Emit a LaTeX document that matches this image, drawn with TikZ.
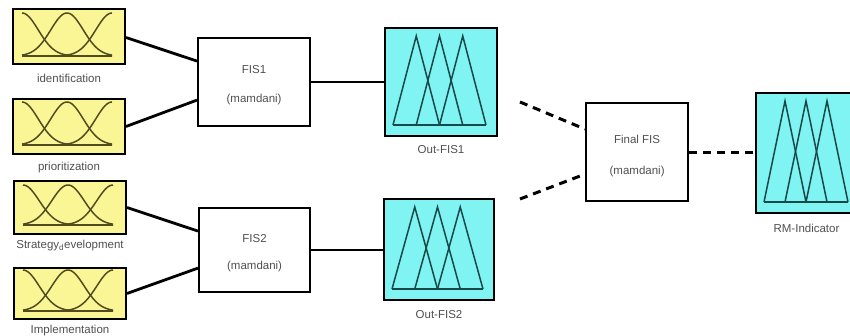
\documentclass[tikz,border=0pt]{standalone}
\usepackage{fontspec}
\setmainfont{Liberation Sans}
\definecolor{inyellow}{RGB}{250,246,150}
\definecolor{outcyan}{RGB}{128,243,243}
\definecolor{gausscol}{RGB}{80,76,32}
\definecolor{tricol}{RGB}{25,72,72}
\definecolor{labcol}{RGB}{80,80,80}
\tikzset{
  inbox/.style={draw=black, line width=2pt, fill=inyellow, minimum width=112pt, minimum height=55pt, inner sep=0pt, anchor=north west},
  outbox/.style={draw=black, line width=2pt, fill=outcyan, inner sep=0pt, anchor=north west},
  fisbox/.style={draw=black, line width=2.2pt, fill=white, inner sep=0pt, anchor=north west},
  lab/.style={font=\fontsize{11.5}{13}\selectfont, text=labcol, inner sep=0pt},
  conn/.style={line width=2.8pt, black},
  dconn/.style={line width=3pt, black, dash pattern=on 8pt off 6pt},
  mfline/.style={line width=1.5pt, gausscol},
  triline/.style={line width=1.5pt, tricol, line join=miter},
}
% three gaussian membership functions: box left #1, baseline #2, peak height #3
\newcommand\gaussset[3]{%
  \begin{scope}[shift={(#1,#2)}]
    \draw[mfline] (10,0) -- (100,0);
    \foreach \c in {10,55,100}{
      \draw[mfline] plot[domain=10:100, samples=80, smooth] (\x,{-#3*exp(-((\x-\c)*(\x-\c))/528)});
    }
  \end{scope}}
% three triangular membership functions: corner (#1,#2), width #3, height #4
\newcommand\triset[4]{%
  \begin{scope}[shift={(#1,#2)}]
    \pgfmathsetmacro\dd{(#3-19)/4}
    \pgfmathsetmacro\bb{#4-10}
    \draw[triline] (9,\bb) -- ({9+4*\dd},\bb);
    \foreach \i in {0,1,2}{
      \draw[triline] ({9+\i*\dd},\bb) -- ({9+(\i+1)*\dd},9) -- ({9+(\i+2)*\dd},\bb);
    }
  \end{scope}}
\begin{document}
\begin{tikzpicture}[x=1pt, y=-1pt]
  \clip (0,0) rectangle (850,336);
  \fill[white] (0,0) rectangle (850,336);

  % input variables
  \node[inbox] (in1) at (12,8) {};
  \node[inbox] (in2) at (12,98) {};
  \node[inbox, minimum height=53pt] (in3) at (13,180) {};
  \node[inbox, minimum height=51pt] (in4) at (13,267) {};
  \gaussset{12}{56}{43}
  \gaussset{12}{145}{43}
  \gaussset{13}{225}{40}
  \gaussset{13}{311}{41}
  \node[lab] (l1) at ([yshift=-13pt]in1.south) {identification};
  \node[lab] (l2) at ([yshift=-13pt]in2.south) {prioritization};
  \node[lab] (l3) at ([yshift=-11pt]in3.south) {Strategy\textsubscript{d}evelopment};
  \node[lab] (l4) at ([yshift=-11pt]in4.south) {Implementation};

  % inference systems
  \node[fisbox, minimum width=112pt, minimum height=88pt] (fis1) at (197,37) {};
  \node[fisbox, minimum width=111pt, minimum height=84pt] (fis2) at (198,207) {};
  \node[fisbox, minimum width=102pt, minimum height=98pt] (fin) at (585,102) {};
  \node[lab] (f1a) at ([yshift=13pt]fis1.center) {FIS1};
  \node[lab] (f1b) at ([yshift=-17pt]fis1.center) {(mamdani)};
  \node[lab] (f2a) at ([yshift=12pt]fis2.center) {FIS2};
  \node[lab] (f2b) at ([yshift=-16pt]fis2.center) {(mamdani)};
  \node[lab] (fna) at ([yshift=13pt]fin.center) {Final FIS};
  \node[lab] (fnb) at ([yshift=-19pt]fin.center) {(mamdani)};

  % output variables
  \node[outbox, minimum width=112pt, minimum height=108pt] (o1) at (384,27) {};
  \node[outbox, minimum width=110pt, minimum height=101pt] (o2) at (383,198) {};
  \node[outbox, minimum width=103pt, minimum height=120pt] (rm) at (755,92) {};
  \triset{384}{27}{112}{108}
  \triset{383}{198}{110}{101}
  \triset{755}{92}{103}{120}
  \node[lab] (lo1) at ([yshift=-13pt]o1.south) {Out-FIS1};
  \node[lab] (lo2) at ([yshift=-14pt]o2.south) {Out-FIS2};
  \node[lab, xshift=-1pt] (lrm) at ([yshift=-14pt]rm.south) {RM-Indicator};

  % connections
  \draw[conn] ([yshift=-1pt]in1.east) -- ([yshift=21pt]fis1.west);
  \draw[conn] (in2.east) -- ([yshift=-18pt]fis1.west);
  \draw[conn] (in3.east) -- ([yshift=19pt]fis2.west);
  \draw[conn] (in4.east) -- ([yshift=-18pt]fis2.west);
  \draw[conn] (fis1.east) -- (o1.west |- fis1.east);
  \draw[conn] (fis2.east) -- (o2.west |- fis2.east);

  \coordinate (d1) at (520,102);
  \coordinate (d2) at (520,199);
  \draw[dconn] (d1) -- ([yshift=23pt]fin.west);
  \draw[dconn] (d2) -- ([yshift=-22pt]fin.west);
  \draw[dconn] (fin.east) -- (rm.west |- fin.east);
\end{tikzpicture}
\end{document}
